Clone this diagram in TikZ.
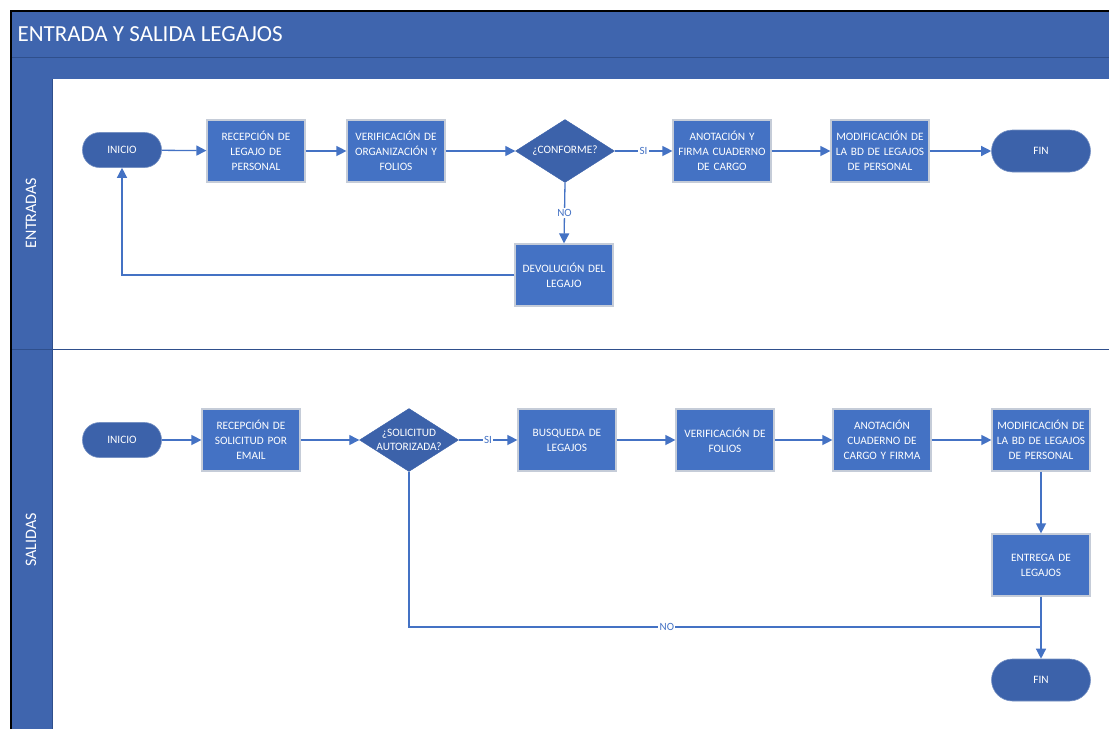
\documentclass[tikz,border=0pt]{standalone}
\usepackage{fontspec}
\setmainfont{Carlito}
\usetikzlibrary{arrows.meta,shapes.geometric}
\definecolor{hdr}{HTML}{3F65AE}
\definecolor{hdrline}{HTML}{2F4F8C}
\definecolor{boxc}{HTML}{4472C4}
\definecolor{termc}{HTML}{3C62AA}
\definecolor{edgec}{HTML}{C5CCD8}
\definecolor{linec}{HTML}{4472C4}
\begin{document}
\begin{tikzpicture}[x=1pt,y=-1pt,
  proc/.style={rectangle,fill=boxc,draw=edgec,line width=1.2pt,minimum width=98pt,minimum height=62pt,
     inner sep=0pt,text width=96pt,align=center,text=white,font=\fontsize{11.3}{14.8}\selectfont},
  term/.style={rectangle,rounded corners=17pt,fill=termc,draw=termc!70!white,line width=0.6pt,
     inner sep=0pt,text=white,font=\fontsize{11.3}{14}\selectfont},
  dia/.style={diamond,fill=termc,draw=termc,inner sep=0pt,minimum width=99pt,minimum height=63pt},
  dlbl/.style={text=white,align=center,font=\fontsize{11.3}{13.5}\selectfont},
  arr/.style={draw=linec,line width=1.3pt,-{Triangle[length=10pt,width=10pt]}},
  ln/.style={draw=linec,line width=1.3pt},
  elbl/.style={fill=white,text=linec,inner sep=1.2pt,font=\fontsize{11}{12}\selectfont}]
\useasboundingbox (0,0) rectangle (1109,729);
\fill[white] (0,0) rectangle (1109,729);
% header and lane column
\fill[hdr] (10,11) rectangle (1109,79);
\draw[hdrline,line width=0.6pt] (10,57) -- (1109,57);
\fill[hdr] (10,79) rectangle (52,729);
\draw[hdrline,line width=0.6pt] (52,79) -- (52,729);
\draw[hdrline,line width=0.8pt] (10,349) -- (1109,349);
\draw[black,line width=2.4pt] (11,729) -- (11,11) -- (1109,11);
\node[anchor=west,text=white,font=\fontsize{23}{27}\selectfont] (title) at (14,34) {ENTRADA Y SALIDA LEGAJOS};
\node[rotate=90,text=white,font=\fontsize{16}{19}\selectfont] (lane1) at (31,213) {ENTRADAS};
\node[rotate=90,text=white,font=\fontsize{16}{19}\selectfont] (lane2) at (31,540) {SALIDAS};
% Entradas
\node[term,minimum width=79pt,minimum height=35pt] (i1) at (122,150) {INICIO};
\node[proc] (r1) at (256,151) {RECEPCIÓN DE\\LEGAJO DE\\PERSONAL};
\node[proc] (v1) at (396,151) {VERIFICACIÓN DE\\ORGANIZACIÓN Y\\FOLIOS};
\node[dia,label={[dlbl]center:¿CONFORME?}] (c1) at (565,151) {};
\node[proc] (a1) at (722,151) {ANOTACIÓN Y\\FIRMA CUADERNO\\DE CARGO};
\node[proc] (m1) at (880,151) {MODIFICACIÓN DE\\LA BD DE LEGAJOS\\DE PERSONAL};
\node[term,minimum width=99pt,minimum height=42pt,rounded corners=21pt] (f1) at (1041,151) {FIN};
\node[proc] (d1) at (564,275) {DEVOLUCIÓN DEL\\LEGAJO};
\draw[arr] (i1) -- (r1);
\draw[arr] (r1) -- (v1);
\draw[arr] (v1) -- (c1);
\draw[arr] (c1) -- node[elbl] {SI} (a1);
\draw[arr] (a1) -- (m1);
\draw[arr] (m1) -- (f1);
\draw[arr] (c1.south) -- node[elbl] {NO} (d1.north);
\draw[arr] (d1.west) -| (i1.south);
% Salidas
\node[term,minimum width=79pt,minimum height=35pt] (i2) at (122,440) {INICIO};
\node[proc] (r2) at (251,440) {RECEPCIÓN DE\\SOLICITUD POR\\EMAIL};
\node[dia,label={[dlbl]center:¿SOLICITUD\\AUTORIZADA?}] (c2) at (409,440) {};
\node[proc] (b2) at (567,440) {BUSQUEDA DE\\LEGAJOS};
\node[proc] (v2) at (725,440) {VERIFICACIÓN DE\\FOLIOS};
\node[proc] (a2) at (882,440) {ANOTACIÓN\\CUADERNO DE\\CARGO Y FIRMA};
\node[proc] (m2) at (1041,440) {MODIFICACIÓN DE\\LA BD DE LEGAJOS\\DE PERSONAL};
\node[proc] (e2) at (1041,565) {ENTREGA DE\\LEGAJOS};
\node[term,minimum width=99pt,minimum height=42pt,rounded corners=21pt] (f2) at (1041,680) {FIN};
\coordinate (nc) at (1041,627);
\draw[arr] (i2) -- (r2);
\draw[arr] (r2) -- (c2);
\draw[arr] (c2) -- node[elbl] {SI} (b2);
\draw[arr] (b2) -- (v2);
\draw[arr] (v2) -- (a2);
\draw[arr] (a2) -- (m2);
\draw[arr] (m2) -- (e2);
\draw[arr] (e2) -- (f2);
\draw[ln] (c2.south) |- node[elbl,pos=0.704] {NO} (nc);
\end{tikzpicture}
\end{document}
